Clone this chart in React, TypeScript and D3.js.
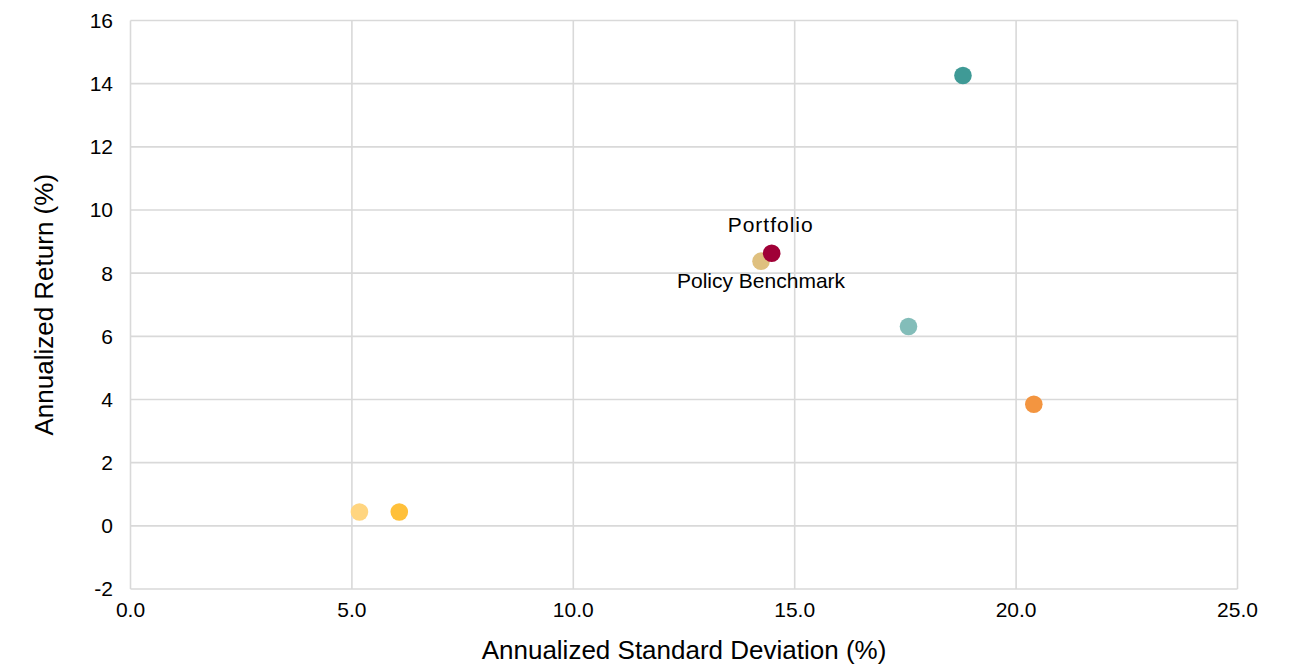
import React from "react";
import * as d3 from "d3";

const names = ["Cash", "Bonds", "Global Equity", "Real Assets", "Alternatives", "Portfolio", "Policy Benchmark"];
const stdDev = [5.17, 6.07, 18.8, 17.57, 20.4, 14.48, 14.24];
const returns = [0.44, 0.44, 14.26, 6.31, 3.85, 8.63, 8.38];
const colors = ["#ffd580", "#ffc03a", "#3f9a96", "#83bdb9", "#f39540", "#a00037", "#dfc07f"];
const xTicks = [0, 5, 10, 15, 20, 25];
const yTicks = [-2, 0, 2, 4, 6, 8, 10, 12, 14, 16];

const W = 1298, H = 665;
const L = 130.5, R = 1237.5, T = 20.5, B = 589;
const font = "'Liberation Sans', Arial, sans-serif";

export default function App() {
  const x = d3.scaleLinear().domain([0, 25]).range([L, R]);
  const y = d3.scaleLinear().domain([-2, 16]).range([B, T]);
  // draw order: benchmark before portfolio
  const order = [0, 1, 2, 3, 4, 6, 5];
  return (
    <svg width={W} height={H} style={{ position: "absolute", left: 0, top: 0, background: "#fff" }} fontFamily={font}>
      {yTicks.map((t) => (
        <g key={"y" + t}>
          <line x1={L} x2={R} y1={y(t)} y2={y(t)} stroke="#d9d9d9" strokeWidth={1.6} />
          <text x={113} y={y(t)} dy="0.35em" textAnchor="end" fontSize={21} fill="#000">{t}</text>
        </g>
      ))}
      {xTicks.map((t) => (
        <g key={"x" + t}>
          <line x1={x(t)} x2={x(t)} y1={T} y2={B} stroke="#d9d9d9" strokeWidth={1.6} />
          <text x={x(t)} y={616.5} textAnchor="middle" fontSize={21} fill="#000">{d3.format(".1f")(t)}</text>
        </g>
      ))}
      {order.map((i) => (
        <circle key={names[i]} cx={x(stdDev[i])} cy={y(returns[i])} r={8.8} fill={colors[i]} />
      ))}
      <text x={x(stdDev[5]) - 1} y={y(returns[5]) - 21} textAnchor="middle" fontSize={21} letterSpacing={1} fill="#000">{names[5]}</text>
      <text x={x(stdDev[6])} y={y(returns[6]) + 27} textAnchor="middle" fontSize={21} fill="#000">{names[6]}</text>
      <text x={684} y={659} textAnchor="middle" fontSize={26} fill="#000">Annualized Standard Deviation (%)</text>
      <text transform={`translate(53, ${(T + B) / 2}) rotate(-90)`} textAnchor="middle" fontSize={26} fill="#000">Annualized Return (%)</text>
    </svg>
  );
}
